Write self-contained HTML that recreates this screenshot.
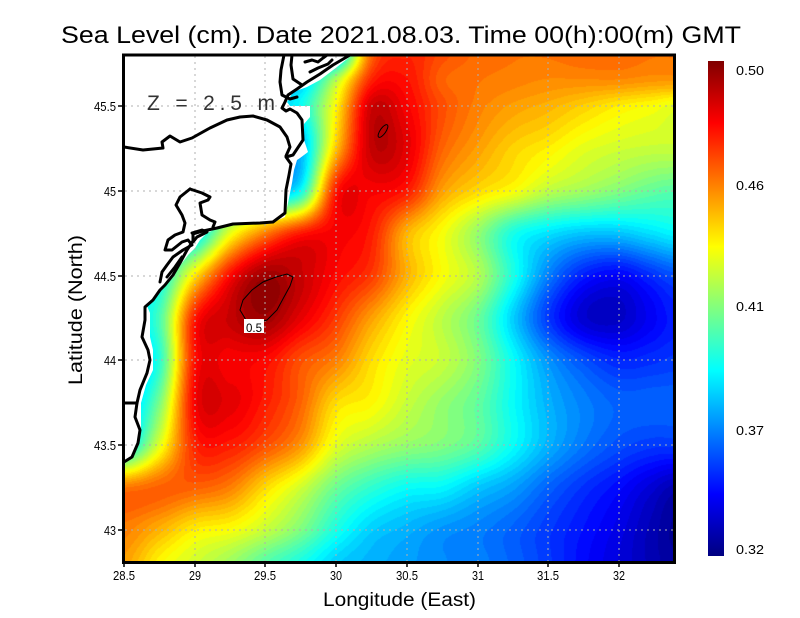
<!DOCTYPE html>
<html><head><meta charset="utf-8"><style>
html,body{margin:0;padding:0;background:#fff;}
#wrap{position:relative;width:800px;height:618px;overflow:hidden;background:#fff;}
#cv{position:absolute;left:124px;top:55px;}
#ov{position:absolute;left:0;top:0;}
text{font-family:"Liberation Sans",sans-serif;fill:#000;}
</style></head><body><div id="wrap">
<canvas id="cv" width="551" height="508"></canvas>
<svg id="ov" width="800" height="618" viewBox="0 0 800 618">
<defs><linearGradient id="jet" x1="0" y1="0" x2="0" y2="1">
<stop offset="0" stop-color="#800000"/><stop offset="0.125" stop-color="#ff0000"/><stop offset="0.375" stop-color="#ffff00"/><stop offset="0.5" stop-color="#80ff80"/><stop offset="0.625" stop-color="#00ffff"/><stop offset="0.875" stop-color="#0000ff"/><stop offset="1" stop-color="#000080"/></linearGradient></defs>
<!-- land -->
<path fill="#fff" d="M124,55 L352,55 L337,67 L320,80 L307,87 L293,92 L287,102 L290,106 L310,106 L310,117 L304,124 L304,140 L308,152 L300,158 L297,160 L294,170 L292,183 L288,203 L285,217 L276,221 L240,224 L220,227 L207,233 L200,240 L195,248 L188,255 L182,263 L176,270 L170,277 L164,285 L158,293 L152,300 L147,306 L150,313 L150,337 L153,350 L153,370 L146,385 L141,403 L141,430 L139,443 L132,458 L124,464 Z"/>
<!-- grid -->
<g stroke="#b0b0b0" stroke-width="1" stroke-dasharray="2,4" fill="none">
<path d="M195,56V562M265,56V562M336,56V562M407,56V562M478,56V562M548,56V562M619,56V562"/>
<path d="M125,106H674M125,191H674M125,276H674M125,360H674M125,445H674M125,530H674"/>
</g>
<!-- coast lines -->
<g stroke="#000" stroke-width="3" fill="none" stroke-linejoin="round" stroke-linecap="round">
<path d="M350,55 L333,65 L320,74 L307,82 L297,89 L288,95 L285,102 L282,108 L286,111 L290,109 L297,113 L302,120 L303,140 L293,155 L286,157 L291,164 L289,175 L286,190 L285,213 L273,222 L260,223 L233,224 L217,228 L203,231 L193,234 L193,241 L187,250 L180,263 L173,275 L165,285 L160,290 L153,300 L145,307 L145,320 L142,337 L148,350 L150,360 L147,373 L140,390 L137,403 L135,417 L140,430 L138,443 L132,457 L124,462"/>
<path d="M124,147 L143,150 L163,148 L162,142 L170,136 L180,142 L192,138 L210,128 L227,120 L240,117 L253,116 L267,120 L280,127 L287,137 L290,147 L286,156"/>
<path d="M284,55 L281,70 L280,82 L282,95 L290,99 L297,97"/>
<path d="M292,55 L291,65 L293,79 L302,85"/>
<path d="M305,62 L312,60 L318,62 L323,58 L327,55"/>
<path d="M310,72 L318,68 L328,64 L332,60"/>
<path d="M190,189 L180,197 L176,205 L182,215 L185,223 L183,232 L175,235 L168,240 L165,250 L172,250 L182,242 L188,240 L192,245 L183,250 L173,257 L167,265 L162,272 L160,282"/>
<path d="M190,189 L202,193 L210,197 L208,200 L200,203 L202,215 L210,220 L215,222 L213,227"/>
<path d="M192,233 L202,230 L207,232 L197,237 L193,242"/>
<path d="M182,257 L175,267 L167,277"/>
<path d="M124,403 L137,403"/>
</g>
<!-- contours -->
<path d="M240,310 L243,300 L252,290 L263,282 L276,277 L287,274 L293,277 L290,286 L284,297 L277,310 L267,320 L256,323 L246,320 Z" fill="none" stroke="#000" stroke-width="1"/>
<rect x="244" y="319" width="20" height="14" fill="#fff"/>
<text x="246" y="332" font-size="12" textLength="16" lengthAdjust="spacingAndGlyphs">0.5</text>
<ellipse cx="383" cy="131" rx="2.8" ry="7.5" transform="rotate(35 383 131)" fill="none" stroke="#000" stroke-width="1"/>
<!-- frame -->
<rect x="123.5" y="55" width="551" height="507.5" fill="none" stroke="#000" stroke-width="3"/>
<g stroke="#000" stroke-width="1.5">
<path d="M124,563V567M195,563V567M265,563V567M336,563V567M407,563V567M478,563V567M548,563V567M619,563V567"/>
<path d="M118,106H124M118,191H124M118,276H124M118,360H124M118,445H124M118,530H124"/>
</g>
<!-- x tick labels -->
<g font-size="13" text-anchor="middle">
<text x="124" y="580" textLength="22" lengthAdjust="spacingAndGlyphs">28.5</text>
<text x="195" y="580" textLength="12" lengthAdjust="spacingAndGlyphs">29</text>
<text x="265" y="580" textLength="22" lengthAdjust="spacingAndGlyphs">29.5</text>
<text x="336" y="580" textLength="12" lengthAdjust="spacingAndGlyphs">30</text>
<text x="407" y="580" textLength="22" lengthAdjust="spacingAndGlyphs">30.5</text>
<text x="478" y="580" textLength="12" lengthAdjust="spacingAndGlyphs">31</text>
<text x="548" y="580" textLength="22" lengthAdjust="spacingAndGlyphs">31.5</text>
<text x="619" y="580" textLength="12" lengthAdjust="spacingAndGlyphs">32</text>
</g>
<g font-size="13" text-anchor="end">
<text x="116" y="111" textLength="22" lengthAdjust="spacingAndGlyphs">45.5</text>
<text x="116" y="196" textLength="12" lengthAdjust="spacingAndGlyphs">45</text>
<text x="116" y="281" textLength="22" lengthAdjust="spacingAndGlyphs">44.5</text>
<text x="116" y="365" textLength="12" lengthAdjust="spacingAndGlyphs">44</text>
<text x="116" y="450" textLength="22" lengthAdjust="spacingAndGlyphs">43.5</text>
<text x="116" y="535" textLength="12" lengthAdjust="spacingAndGlyphs">43</text>
</g>
<!-- colorbar -->
<rect x="708" y="61" width="16" height="495" fill="url(#jet)"/>
<g font-size="13">
<text x="736" y="75" textLength="28" lengthAdjust="spacingAndGlyphs">0.50</text>
<text x="736" y="190" textLength="28" lengthAdjust="spacingAndGlyphs">0.46</text>
<text x="736" y="311" textLength="28" lengthAdjust="spacingAndGlyphs">0.41</text>
<text x="736" y="435" textLength="28" lengthAdjust="spacingAndGlyphs">0.37</text>
<text x="736" y="554" textLength="28" lengthAdjust="spacingAndGlyphs">0.32</text>
</g>
<!-- titles -->
<text x="61" y="43" font-size="24" textLength="680" lengthAdjust="spacingAndGlyphs">Sea Level (cm). Date 2021.08.03. Time 00(h):00(m) GMT</text>
<text x="323" y="606" font-size="19" textLength="153" lengthAdjust="spacingAndGlyphs">Longitude (East)</text>
<text transform="translate(82,385) rotate(-90)" x="0" y="0" font-size="19" textLength="150" lengthAdjust="spacingAndGlyphs">Latitude (North)</text>
<text x="147" y="110" font-size="21" textLength="128" lengthAdjust="spacing" style="fill:#333">Z = 2.5 m</text>
</svg>
</div>
<script>
(function(){
var xs=[124,160,195,230,265,300,336,371,407,442,478,513,548,584,619,654,675];
var ys=[55,80,106,148,191,233,276,318,360,403,445,488,530,563];
var V=[
[0.35,0.35,0.35,0.35,0.35,0.35,0.3,0.77,0.84,0.8,0.77,0.76,0.76,0.77,0.77,0.76,0.76],
[0.35,0.35,0.35,0.35,0.35,0.32,0.55,0.84,0.86,0.78,0.76,0.75,0.74,0.74,0.74,0.73,0.73],
[0.35,0.35,0.35,0.35,0.35,0.38,0.63,0.92,0.88,0.8,0.75,0.72,0.7,0.67,0.64,0.62,0.6],
[0.35,0.35,0.35,0.35,0.35,0.3,0.68,0.93,0.9,0.78,0.72,0.67,0.64,0.6,0.58,0.57,0.57],
[0.35,0.35,0.35,0.35,0.33,0.38,0.85,0.88,0.85,0.72,0.66,0.62,0.56,0.53,0.5,0.47,0.46],
[0.35,0.35,0.35,0.6,0.75,0.85,0.88,0.85,0.7,0.62,0.52,0.4,0.35,0.32,0.32,0.35,0.37],
[0.35,0.38,0.65,0.87,0.97,0.93,0.87,0.82,0.7,0.62,0.55,0.4,0.25,0.15,0.12,0.17,0.2],
[0.35,0.45,0.85,0.93,0.97,0.9,0.82,0.72,0.63,0.56,0.48,0.33,0.18,0.08,0.07,0.12,0.15],
[0.3,0.42,0.86,0.88,0.87,0.8,0.75,0.66,0.6,0.57,0.5,0.38,0.27,0.2,0.16,0.17,0.18],
[0.3,0.5,0.88,0.9,0.85,0.78,0.66,0.63,0.57,0.52,0.47,0.38,0.3,0.25,0.22,0.22,0.22],
[0.35,0.6,0.84,0.85,0.8,0.73,0.6,0.55,0.52,0.5,0.46,0.38,0.3,0.24,0.2,0.18,0.18],
[0.76,0.78,0.78,0.75,0.66,0.58,0.48,0.42,0.38,0.37,0.32,0.28,0.22,0.17,0.13,0.08,0.05],
[0.75,0.7,0.64,0.62,0.57,0.5,0.4,0.33,0.3,0.27,0.25,0.22,0.18,0.14,0.1,0.05,0.02],
[0.72,0.63,0.58,0.53,0.46,0.4,0.33,0.3,0.28,0.26,0.25,0.22,0.18,0.13,0.09,0.05,0.03]];
var nx=xs.length, ny=ys.length;
function fidx(a,p){for(var i=0;i<a.length-1;i++){if(p<=a[i+1])return i+Math.max(0,(p-a[i]))/(a[i+1]-a[i]);}return a.length-1;}
function cr(p0,p1,p2,p3,t){return 0.5*((2*p1)+(-p0+p2)*t+(2*p0-5*p1+4*p2-p3)*t*t+(-p0+3*p1-3*p2+p3)*t*t*t);}
function g(r,c){r=Math.min(ny-1,Math.max(0,r));c=Math.min(nx-1,Math.max(0,c));return V[r][c];}
function val(fx,fy){var i=Math.floor(fx),j=Math.floor(fy);if(i>nx-2)i=nx-2;if(j>ny-2)j=ny-2;var tx=fx-i,ty=fy-j;var c=[];for(var k=-1;k<3;k++){c.push(cr(g(j+k,i-1),g(j+k,i),g(j+k,i+1),g(j+k,i+2),tx));}return cr(c[0],c[1],c[2],c[3],ty);}
function cl(v){return v<0?0:(v>1?1:v);}
var cv=document.getElementById('cv');var ctx=cv.getContext('2d');
var W=551,H=508;var img=ctx.createImageData(W,H);var d=img.data;
var FX=[];for(var x=0;x<W;x++)FX.push(fidx(xs,124+x+0.5));
for(var y=0;y<H;y++){var fy=fidx(ys,55+y+0.5);
for(var x=0;x<W;x++){var t=cl(val(FX[x],fy));t=Math.round(t*60)/60;
var r=cl(1.5-Math.abs(4*t-3)),gg=cl(1.5-Math.abs(4*t-2)),b=cl(1.5-Math.abs(4*t-1));
var o=(y*W+x)*4;d[o]=r*255;d[o+1]=gg*255;d[o+2]=b*255;d[o+3]=255;}}
ctx.putImageData(img,0,0);
})();
</script>
</body></html>
